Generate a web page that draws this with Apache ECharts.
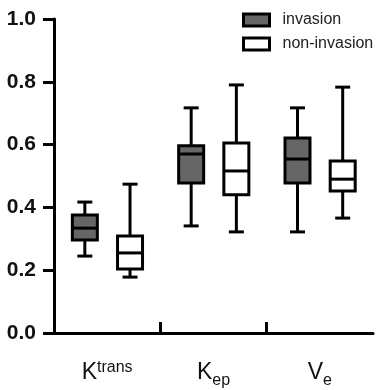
<!DOCTYPE html>
<html>
<head>
<meta charset="utf-8">
<script src="https://cdn.jsdelivr.net/npm/echarts@6/dist/echarts.min.js"></script>
<style>
  html, body { margin: 0; padding: 0; background: #fff; }
  #chart { width: 383px; height: 390px; }
</style>
</head>
<body>
<div id="chart"></div>
<script>
// categories and their label parts (base letter + superscript/subscript)
const categories = ['Ktrans', 'Kep', 'Ve'];
const catBase = ['K', 'K', 'V'];
const catScript = ['trans', 'ep', 'e'];
const catScriptKind = ['sup', 'sub', 'sub'];

// boxes: [min, Q1, median, Q3, max]
const invasion = [
  [0.245, 0.296, 0.334, 0.376, 0.417],
  [0.341, 0.478, 0.570, 0.596, 0.717],
  [0.322, 0.478, 0.554, 0.621, 0.717]
];
const nonInvasion = [
  [0.178, 0.204, 0.255, 0.309, 0.474],
  [0.322, 0.440, 0.516, 0.605, 0.790],
  [0.366, 0.452, 0.490, 0.548, 0.783]
];

const yTicks = [0, 0.2, 0.4, 0.6, 0.8, 1.0];

const chart = echarts.init(document.getElementById('chart'));

function boxRenderer(offset, fill) {
  return function (params, api) {
    const idx = api.value(0);
    const band = api.size([1, 0])[0];
    const cx = api.coord([idx, 0])[0] + offset * band;
    const y = k => api.coord([idx, api.value(k)])[1];
    const yMin = y(1), yQ1 = y(2), yMed = y(3), yQ3 = y(4), yMax = y(5);
    const halfBox = 12.5, halfCap = 7.5;
    const line = { stroke: '#000', lineWidth: 3 };
    return {
      type: 'group',
      children: [
        { type: 'line', shape: { x1: cx, y1: yMax, x2: cx, y2: yQ3 }, style: line },
        { type: 'line', shape: { x1: cx, y1: yQ1, x2: cx, y2: yMin }, style: line },
        { type: 'line', shape: { x1: cx - halfCap, y1: yMax, x2: cx + halfCap, y2: yMax }, style: line },
        { type: 'line', shape: { x1: cx - halfCap, y1: yMin, x2: cx + halfCap, y2: yMin }, style: line },
        { type: 'rect', shape: { x: cx - halfBox, y: yQ3, width: halfBox * 2, height: yQ1 - yQ3 },
          style: { fill: fill, stroke: '#000', lineWidth: 3 } },
        { type: 'line', shape: { x1: cx - halfBox, y1: yMed, x2: cx + halfBox, y2: yMed }, style: line }
      ]
    };
  };
}

function toData(rows) {
  return rows.map((r, i) => [i].concat(r));
}

chart.setOption({
  backgroundColor: '#fff',
  animation: false,
  legend: {
    orient: 'vertical',
    left: 237,
    top: 7,
    icon: 'rect',
    itemWidth: 26,
    itemHeight: 12,
    itemGap: 8,
    textStyle: { fontFamily: 'Liberation Sans, Arial', fontSize: 16, color: '#222', padding: [0, 0, 0, 8] },
    data: [
      { name: 'invasion', itemStyle: { color: '#666', borderColor: '#000', borderWidth: 3 } },
      { name: 'non-invasion', itemStyle: { color: '#fff', borderColor: '#000', borderWidth: 3 } }
    ]
  },
  grid: { left: 54, right: 10, top: 19, bottom: 57, outerBoundsMode: 'none' },
  xAxis: [
    {
      type: 'category',
      data: categories,
      axisLine: { lineStyle: { color: '#000', width: 3 } },
      axisTick: { show: false },
      axisLabel: {
        interval: 0,
        margin: 27,
        formatter: (v, i) => '{b|' + catBase[i] + '}{' + catScriptKind[i] + '|' + catScript[i] + '}',
        rich: {
          b: { fontFamily: 'Liberation Sans, Arial', fontSize: 23, lineHeight: 26, color: '#111' },
          sup: { fontFamily: 'Liberation Sans, Arial', fontSize: 16, lineHeight: 18, verticalAlign: 'top', color: '#111', padding: [0, 0, 3, 0] },
          sub: { fontFamily: 'Liberation Sans, Arial', fontSize: 16, lineHeight: 18, verticalAlign: 'bottom', color: '#111', padding: [0, 0, -3, 0] }
        }
      }
    },
    {
      type: 'value',
      min: 0,
      max: categories.length,
      position: 'bottom',
      axisLine: { show: false },
      splitLine: { show: false },
      axisLabel: { show: false },
      axisTick: {
        inside: true,
        length: 11,
        lineStyle: { color: '#000', width: 3 },
        customValues: categories.slice(1).map((c, i) => i + 1)
      }
    }
  ],
  yAxis: {
    type: 'value',
    min: 0,
    max: 1,
    interval: 0.2,
    axisLine: { show: true, lineStyle: { color: '#000', width: 3 } },
    axisTick: { show: true, length: 11, lineStyle: { color: '#000', width: 3 } },
    splitLine: { show: false },
    axisLabel: {
      margin: 18,
      fontFamily: 'Liberation Sans, Arial',
      fontWeight: 'bold',
      fontSize: 21,
      color: '#111',
      formatter: v => yTicks.includes(Math.round(v * 10) / 10) ? v.toFixed(1) : ''
    }
  },
  series: [
    {
      name: 'invasion',
      type: 'custom',
      xAxisIndex: 0,
      renderItem: boxRenderer(-0.21, '#666'),
      itemStyle: { color: '#666', borderColor: '#000' },
      encode: { x: 0, y: [1, 2, 3, 4, 5] },
      data: toData(invasion)
    },
    {
      name: 'non-invasion',
      type: 'custom',
      xAxisIndex: 0,
      renderItem: boxRenderer(0.215, '#fff'),
      itemStyle: { color: '#fff', borderColor: '#000' },
      encode: { x: 0, y: [1, 2, 3, 4, 5] },
      data: toData(nonInvasion)
    }
  ]
});
</script>
</body>
</html>
